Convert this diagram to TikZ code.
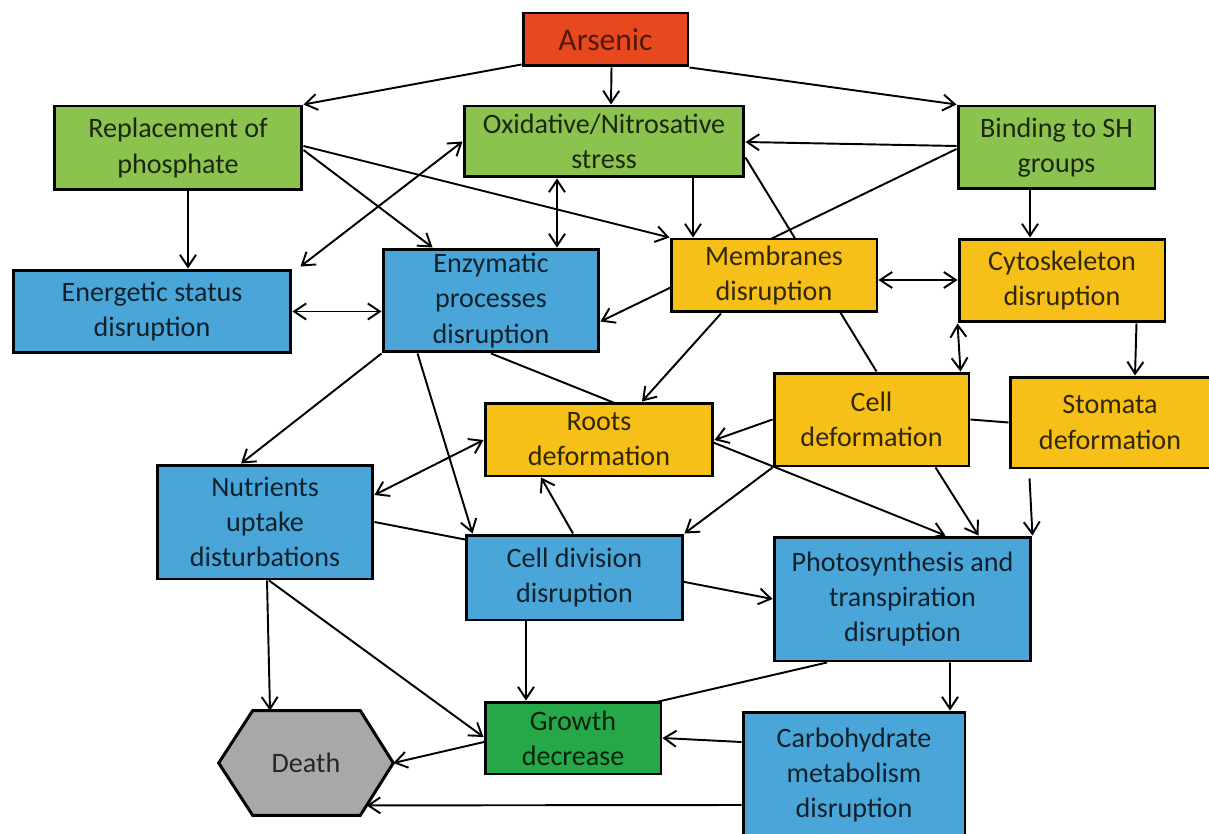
\documentclass[tikz,border=0pt]{standalone}
\usepackage{fontspec}
\setmainfont{Carlito}
\usetikzlibrary{arrows.meta,calc,backgrounds}
\definecolor{cred}{RGB}{232,72,30}
\definecolor{cgreen}{RGB}{140,194,78}
\definecolor{cblue}{RGB}{74,166,216}
\definecolor{cyellow}{RGB}{246,192,24}
\definecolor{cdgreen}{RGB}{38,168,72}
\definecolor{cgray}{RGB}{168,168,168}
\begin{document}
\begin{tikzpicture}[x=0.02cm,y=-0.02cm,
  box/.style={draw=black, line width=1.7pt, align=center, inner sep=0pt, font=\fontsize{16}{20}\selectfont},
  rbox/.style={box, fill=cred, text=cred!35!black},
  gbox/.style={box, fill=cgreen, text=cgreen!20!black},
  bbox/.style={box, fill=cblue, text=cblue!20!black},
  ybox/.style={box, fill=cyellow, text=cyellow!20!black},
  dgbox/.style={box, fill=cdgreen, text=cdgreen!20!black},
  tip/.tip={Straight Barb[length=2.4mm,width=3.2mm,line width=1.1pt]},
  arr/.style={line width=1.1pt, -tip},
  darr/.style={line width=1.1pt, tip-tip},
  ln/.style={line width=1.1pt}]
\useasboundingbox (0,0) rectangle (1209,834);

% nodes
\node[rbox, font=\fontsize{18}{22}\selectfont, minimum width=3.3cm, minimum height=1.06cm] (ars) at (605.5,39.5) {Arsenic};
\node[gbox, minimum width=4.96cm, minimum height=1.68cm] (rep) at (178,148) {Replacement of\\phosphate};
\node[gbox, minimum width=5.6cm, minimum height=1.42cm] (oxi) at (604,141.5) {Oxidative/Nitrosative\\stress};
\node[gbox, minimum width=3.94cm, minimum height=1.66cm] (bin) at (1056.5,147.5) {Binding to SH\\groups};
\node[bbox, minimum width=5.56cm, minimum height=1.66cm] (ene) at (152,311.5) {Energetic status\\disruption};
\node[bbox, minimum width=4.32cm, minimum height=2.06cm] (enz) at (491,300.5) {Enzymatic\\processes\\disruption};
\node[ybox, minimum width=4.12cm, minimum height=1.46cm] (mem) at (774,275.5) {Membranes\\disruption};
\node[ybox, minimum width=4.12cm, minimum height=1.66cm] (cyt) at (1062,280.5) {Cytoskeleton\\disruption};
\node[ybox, minimum width=3.9cm, minimum height=1.86cm] (cel) at (871.5,419.5) {Cell\\deformation};
\node[ybox, minimum width=4.0cm, minimum height=1.82cm] (sto) at (1110,422.5) {Stomata\\deformation};
\node[ybox, minimum width=4.56cm, minimum height=1.46cm] (roo) at (599,439.5) {Roots\\deformation};
\node[bbox, minimum width=4.32cm, minimum height=2.28cm] (nut) at (265,522) {Nutrients\\uptake\\disturbations};
\node[bbox, minimum width=4.34cm, minimum height=1.7cm] (div) at (574.5,577.5) {Cell division\\disruption};
\node[bbox, minimum width=5.14cm, minimum height=2.48cm] (pho) at (902.5,599) {Photosynthesis and\\transpiration\\disruption};
\node[dgbox, minimum width=3.52cm, minimum height=1.44cm] (gro) at (573,738) {Growth\\decrease};
\node[bbox, minimum width=4.44cm, minimum height=2.52cm] (car) at (854,775) {Carbohydrate\\metabolism\\disruption};
\node[inner sep=0pt, minimum width=3.48cm, minimum height=2.08cm] (dea) at (306,763) {};
\filldraw[fill=cgray, draw=black, line width=1.7pt, line join=miter]
  (dea.west) -- ($(dea.north west)+(34,0)$) -- ($(dea.north east)+(-33,0)$) -- (dea.east)
  -- ($(dea.south east)+(-33,0)$) -- ($(dea.south west)+(34,0)$) -- cycle;
\node[font=\fontsize{16}{20}\selectfont, text=black!85] (dealabel) at (dea.center) {Death};
\path (dea.east) -- ($(dea.south east)+(-33,0)$) coordinate[pos=0.81] (deaC);

\begin{pgfonlayer}{background}
\fill[white] (0,0) rectangle (1209,834);
% from Arsenic
\draw[arr] ($(ars.south west)+(0,-3)$) -- (rep.north east);
\draw[arr] ($(ars.south)+(6,0)$) -- ($(oxi.north)+(7,0)$);
\draw[arr] (ars.south east) -- (bin.north west);
% from Replacement
\draw[arr] ($(rep.south)+(10,0)$) -- ($(ene.north)+(36,0)$);
\draw[arr] ($(rep.east)+(0,2)$) -- ($(enz.north west)+(51,0)$);
\draw[arr] ($(rep.east)+(0,-2)$) -- (mem.north west);
% double arrows
\draw[darr] ($(ene.north east)+(8,-2)$) -- (oxi.west);
\draw[darr] (ene.east) -- (ene.east -| enz.west);
\draw[darr] ($(oxi.south)+(-47,0)$) -- ($(enz.north)+(66,0)$);
\draw[darr] ($(mem.east)+(0,4.5)$) -- ($(mem.east -| cyt.west)+(0,4.5)$);
\draw[darr] (cyt.south west) -- ($(cel.north east)+(-10,0)$);
\draw[darr] ($(nut.east)+(0,-27)$) -- ($(roo.west)+(0,0.5)$);
% oxidative / binding
\draw[arr] ($(oxi.south)+(89,0)$) -- ($(mem.north)+(-81,0)$);
\draw[arr] ($(bin.west)+(0,-1.5)$) -- ($(oxi.east)+(0,0.5)$);
\draw[arr] ($(bin.west)+(0,1.5)$) -- ($(enz.east)+(0,21)$);
\draw[ln] ($(oxi.east)+(0,16)$) -- ($(cel.north)+(5,0)$);
\draw[arr] ($(bin.south)+(-26.5,0)$) -- ($(cyt.north)+(-32,0)$);
\draw[arr] ($(cyt.south east)+(-30,0)$) -- ($(sto.north)+(25,0)$);
% membranes, enzymatic
\draw[arr] ($(mem.south)+(-53,0)$) -- ($(roo.north)+(43,0)$);
\draw[arr] (enz.south west) -- ($(nut.north)+(-24,0)$);
\draw[arr] ($(enz.south west)+(36,0)$) -- ($(div.north west)+(8,0)$);
\draw[arr] (enz.south) -- ($(pho.north)+(43,0)$);
% nutrients, division
\draw[arr] (nut.east) -- (pho.west);
\draw[arr] ($(div.north)+(-1.5,0)$) -- ($(roo.south)+(-58,0)$);
\draw[arr] ($(nut.south)+(2,0)$) -- ($(dea.north)+(-36,0)$);
\draw[arr] ($(nut.south)+(4,0)$) -- ($(gro.west)+(0,-1)$);
\draw[arr] ($(div.south)+(-48.5,0)$) -- ($(gro.north)+(-47,0)$);
% cell deformation, stomata
\draw[arr] (cel.west) -- ($(roo.east)+(0,0.5)$);
\draw[ln] (cel.east) -- (sto.west);
\draw[arr] ($(sto.south west)+(21,9)$) -- (pho.north east);
\draw[arr] (cel.south west) -- (div.north east);
\draw[arr] ($(cel.south)+(64,0)$) -- ($(pho.north)+(76,0)$);
% photosynthesis, carbohydrate
\draw[arr] ($(pho.south)+(47.5,0)$) -- ($(car.north)+(96,0)$);
\draw[arr] ($(pho.south)+(-75.5,0)$) -- (dea.east);
\draw[arr] ($(car.west)+(0,-33)$) -- (gro.east);
\draw[arr] ($(car.west)+(0,30)$) -- (deaC);
\end{pgfonlayer}
\end{tikzpicture}
\end{document}
